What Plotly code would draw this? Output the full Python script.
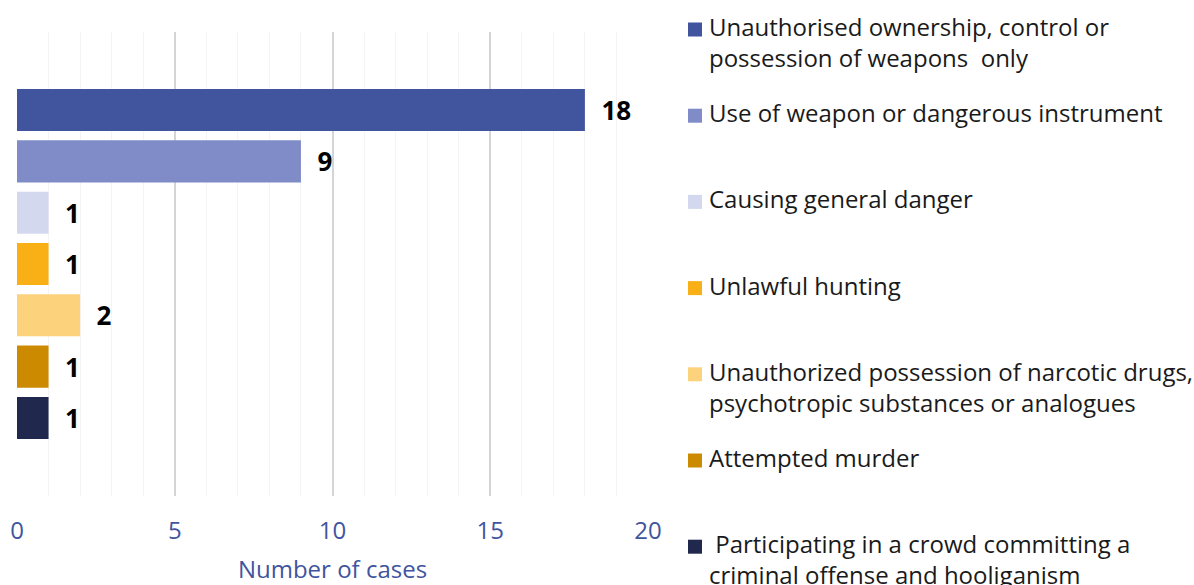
import plotly.graph_objects as go

categories = [
    "Unauthorised ownership, control or<br>possession of weapons  only",
    "Use of weapon or dangerous instrument",
    "Causing general danger",
    "Unlawful hunting",
    "Unauthorized possession of narcotic drugs,<br>psychotropic substances or analogues",
    "Attempted murder",
    " Participating in a crowd committing a<br>criminal offense and hooliganism",
]
values = [18, 9, 1, 1, 2, 1, 1]
colors = ["#41549E", "#7F8CC8", "#D4D8EE", "#F9B016", "#FCD27C", "#CC8A00", "#20284E"]
x_ticks = [0, 5, 10, 15, 20]
x_title = "Number of cases"

W, H = 1194, 585
ML, MR, MT, MB = 17, 546, 32, 89
PW, PH = W - ML - MR, H - MT - MB


def px_x(p):  # page pixel -> paper x
    return (p - ML) / PW


def px_y(p):  # page pixel -> paper y
    return (H - MB - p) / PH


fig = go.Figure()
for i, (cat, val, col) in enumerate(zip(categories, values, colors)):
    fig.add_trace(go.Bar(
        x=[val], y=[cat], orientation="h", name=cat,
        marker=dict(color=col, line=dict(width=0)),
        width=0.82,
        text=[f"\u00a0\u00a0{val}"], textposition="outside",
        textfont=dict(family="Open Sans", size=26, color="#000000", weight="bold"),
        cliponaxis=False, showlegend=False,
    ))

# manual legend (right side)
legend_first_line = 28
legend_step = 86.2
for i, (cat, col) in enumerate(zip(categories, colors)):
    cy = legend_first_line + i * legend_step
    fig.add_shape(type="rect", xref="paper", yref="paper",
                  x0=px_x(688), x1=px_x(702), y0=px_y(cy + 8.5), y1=px_y(cy - 5.5),
                  fillcolor=col, line=dict(width=0))
    fig.add_annotation(xref="paper", yref="paper", x=px_x(707), y=px_y(cy - 20),
                       xanchor="left", yanchor="top", align="left", showarrow=False,
                       text=cat, font=dict(family="Open Sans", size=24, color="#1a1a1a"))

fig.update_layout(
    width=W, height=H,
    margin=dict(l=ML, r=MR, t=MT, b=MB, autoexpand=False),
    paper_bgcolor="white", plot_bgcolor="white",
    font=dict(family="Open Sans", size=24, color="#222222"),
    barmode="overlay",
    showlegend=False,
    xaxis=dict(
        range=[0, 20], tickvals=x_ticks, showgrid=True, gridcolor="#D3D6D9", gridwidth=2,
        zeroline=False, showline=False, ticks="", ticklabelstandoff=18,
        tickfont=dict(family="Open Sans", size=24, color="#41549E"),
        title=dict(text=x_title, font=dict(family="Open Sans", size=24, color="#41549E"), standoff=17),
        minor=dict(dtick=1, showgrid=True, gridcolor="#F4F4F4", gridwidth=1),
    ),
    yaxis=dict(
        categoryorder="array", categoryarray=categories,
        range=[6 + 1.52, -1.52], showticklabels=False, showgrid=False, zeroline=False,
    ),
)

fig.write_html(
    "out.html",
    config={"displayModeBar": False},
    post_script="document.body.style.margin='0';document.body.style.overflow='hidden';",
)
